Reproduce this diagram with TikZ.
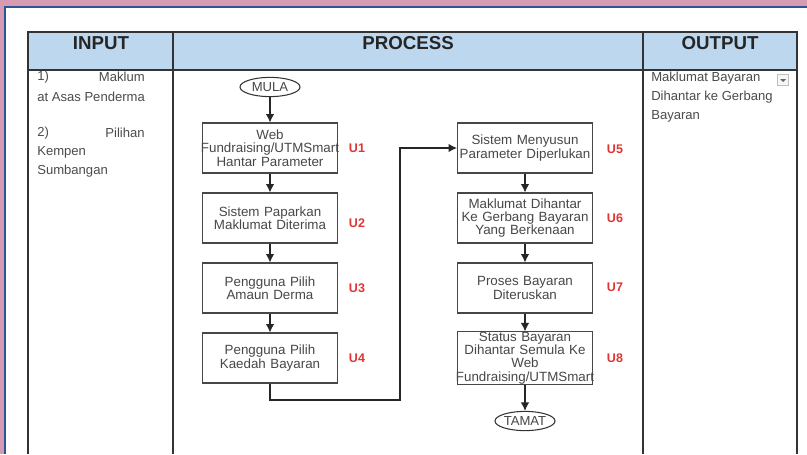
\documentclass[tikz,border=0pt]{standalone}
\usepackage{fontspec}
\setmainfont{Liberation Sans}
\usepackage{tikz}
\usetikzlibrary{arrows.meta,positioning,shapes.geometric,calc}

\definecolor{pinkbg}{HTML}{D69BB2}
\definecolor{panelblue}{HTML}{2C5597}
\definecolor{headblue}{HTML}{BDD7EE}
\definecolor{labelred}{HTML}{E03535}

\newcommand{\wideline}[1]{\makebox[\linewidth][c]{#1}}

\begin{document}
\begin{tikzpicture}[
  x=0.025cm, y=-0.025cm,
  proc/.style={draw=black!72, line width=0.75pt, text width=3.375cm,
    minimum height=1.25cm, inner sep=0pt, align=center, text=black!72,
    font=\fontsize{9.5}{9.5}\selectfont},
  term/.style={ellipse, draw=black!80, line width=0.75pt, inner sep=0pt,
    minimum width=1.5cm, minimum height=0.48cm, text=black!72,
    font=\fontsize{9.3}{10}\selectfont},
  ulbl/.style={anchor=west, text=labelred, font=\fontsize{8.9}{10}\bfseries\selectfont},
  head/.style={font=\fontsize{13.3}{15}\bfseries\selectfont, text=black!85},
  cell/.style={anchor=west, inner sep=0pt, text=black!70, font=\fontsize{9.3}{11}\selectfont},
  flow/.style={-{Latex[length=6pt,width=6pt]}, line width=0.8pt, black!85}
]
\useasboundingbox (0,0) rectangle (807,454);
\fill[pinkbg] (0,0) rectangle (807,454);
\fill[white] (5,7) rectangle (807,454);
\draw[panelblue, line width=1.5pt] (5,454) -- (5,7) -- (807,7);

\fill[headblue] (28,32) rectangle (797,70);
\draw[black!80, line width=1pt] (28,454) -- (28,32) -- (797,32) -- (797,454);
\draw[black!80, line width=1pt] (28,70) -- (797,70);
\draw[black!80, line width=1pt] (173,32) -- (173,454);
\draw[black!80, line width=1pt] (643,32) -- (643,454);

\node[head] (hin) at (101,43) {INPUT};
\node[head] (hproc) at (408,43) {PROCESS};
\node[head] (hout) at (720,43) {OUTPUT};

\node[cell] (in1) at (37,77) {1)};
\node[cell, anchor=east] (in1b) at (145,77) {Maklum};
\node[cell] (in1c) at (37,97) {at Asas Penderma};
\node[cell] (in2) at (37,133) {2)};
\node[cell, anchor=east] (in2b) at (145,133) {Pilihan};
\node[cell] (in2c) at (37,152) {Kempen};
\node[cell] (in2d) at (37,171) {Sumbangan};

\node[cell] (out1) at (651,78) {Maklumat Bayaran};
\node[cell] (out2) at (651,97) {Dihantar ke Gerbang};
\node[cell] (out3) at (651,116) {Bayaran};
\node[draw=black!25, fill=black!3, minimum size=0.28cm, inner sep=0pt] (drop) at (783,80) {};
\fill[black!60] ($(drop.center)+(-3,-1)$) -- ++(6,0) -- ++(-3,3) -- cycle;

\node[term] (mula) at (270,87) {MULA};
\node[proc] (u1) at (270,148) {Web\\\wideline{Fundraising/UTMSmart}\\Hantar Parameter};
\node[proc] (u2) at (270,218) {Sistem Paparkan\\Maklumat Diterima};
\node[proc] (u3) at (270,288) {Pengguna Pilih\\Amaun Derma};
\node[proc] (u4) at (270,358) {Pengguna Pilih\\Kaedah Bayaran};
\node[proc] (u5) at (525,148) {Sistem Menyusun\\\wideline{Parameter Diperlukan}};
\node[proc] (u6) at (525,218) {Maklumat Dihantar\\Ke Gerbang Bayaran\\Yang Berkenaan};
\node[proc] (u7) at (525,288) {Proses Bayaran\\Diteruskan};
\node[proc] (u8) at (525,358) {Status Bayaran\\Dihantar Semula Ke\\Web\\\wideline{Fundraising/UTMSmart}};
\node[term] (tamat) at (525,421) {TAMAT};

\node[ulbl] (l1) at (344,148) {U1};
\node[ulbl] (l2) at (344,223) {U2};
\node[ulbl] (l3) at (344,288) {U3};
\node[ulbl] (l4) at (344,358) {U4};
\node[ulbl] (l5) at (602,149) {U5};
\node[ulbl] (l6) at (602,218) {U6};
\node[ulbl] (l7) at (602,287) {U7};
\node[ulbl] (l8) at (602,358) {U8};

\draw[flow] (mula) -- (u1);
\draw[flow] (u1) -- (u2);
\draw[flow] (u2) -- (u3);
\draw[flow] (u3) -- (u4);
\coordinate (turn) at (400,400);
\draw[flow] (u4.south) -- (u4.south |- turn) -- (turn) |- (u5.west);
\draw[flow] (u5) -- (u6);
\draw[flow] (u6) -- (u7);
\draw[flow] (u7) -- (u8);
\draw[flow] (u8) -- (tamat);
\end{tikzpicture}
\end{document}
